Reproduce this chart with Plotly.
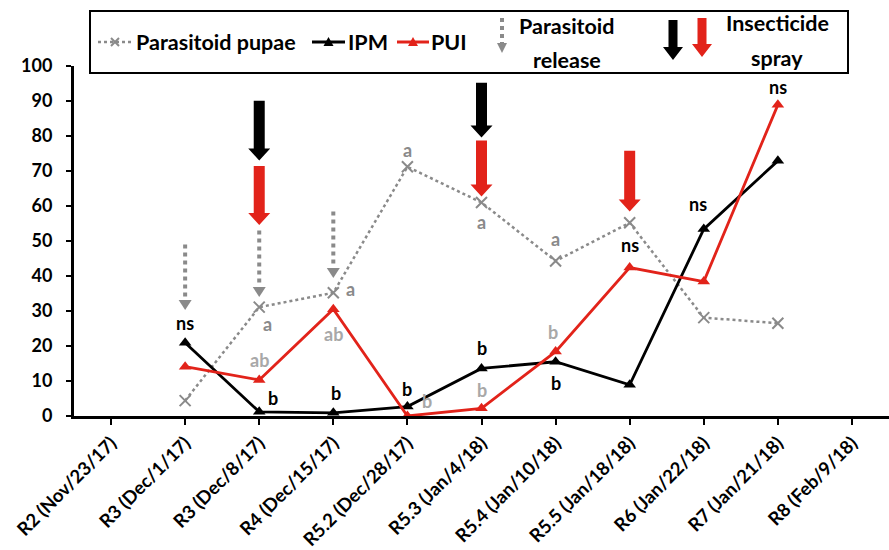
import plotly.graph_objects as go

# ---------------- data ----------------
categories = ["R2 (Nov/23/17)", "R3 (Dec/1/17)", "R3 (Dec/8/17)", "R4 (Dec/15/17)",
              "R5.2 (Dec/28/17)", "R5.3 (Jan/4/18)", "R5.4 (Jan/10/18)", "R5.5 (Jan/18/18)",
              "R6 (Jan/22/18)", "R7 (Jan/21/18)", "R8 (Feb/9/18)"]
pupae = [None, 4.4, 31.1, 35.2, 71.2, 61.0, 44.3, 55.2, 28.1, 26.5, None]
ipm = [None, 20.9, 1.2, 0.9, 2.7, 13.6, 15.5, 8.9, 53.4, 72.9, None]
pui = [None, 14.1, 10.3, 30.5, 0.0, 2.2, 18.4, 42.4, 38.4, 88.9, None]
y_ticks = [0, 10, 20, 30, 40, 50, 60, 70, 80, 90, 100]

# significance letters: (category index, y, text)
sig_black = [(1, 26.6, "ns"), (2, 5.1, "b"), (3, 6.6, "b"), (4, 7.7, "b"), (5, 19.4, "b"),
             (6, 9.4, "b"), (7, 48.9, "ns"), (8, 60.6, "ns"), (9, 94.0, "ns")]
sig_pupae = [(2, 26.3, "a"), (3, 36.3, "a"), (4, 76.0, "a"), (5, 55.4, "a"), (6, 50.6, "a")]
sig_pui = [(2, 16.0, "ab"), (3, 23.4, "ab"), (4, 4.4, "b"), (5, 7.4, "b"), (6, 24.1, "b")]

# arrows: category index, top value, tip value
release_idx = [1, 2, 3]
release_top = [49.0, 53.0, 58.4]
release_tip = [30.3, 34.0, 39.4]
spray_ipm_idx = [2, 5]
spray_ipm_top = [90.1, 95.2]
spray_ipm_tip = [73.0, 79.6]
spray_pui_idx = [2, 5, 7]
spray_pui_top = [71.4, 78.7, 75.8]
spray_pui_tip = [54.6, 62.7, 58.4]

# ---------------- styling / layout ----------------
W, H = 889, 550
L, R, T, B = 74, 0, 66, 134
PW = W - L - R
PH = H - T - B
FONT = "Lato"
RED = "#e2231a"
GRAY = "#8a8a8a"
LGRAY = "#a8a8a8"
ncat = len(categories)
xs = list(range(ncat))
px_per_cat = PW / ncat
px_per_unit = PH / 100.0

# label x-shifts (pixels)
shift_black = [0, 14, 3, 0, 0, 0, 0, -6, 0]
shift_pupae = [8, 17, 0, 0, 0]
shift_pui = [0, 0, 20, 0, -3]

fig = go.Figure()
fig.add_trace(go.Scatter(x=xs, y=pupae, mode="lines+markers", name="Parasitoid pupae",
                         line=dict(color=GRAY, width=2.5, dash="dot"),
                         marker=dict(symbol="x-thin", size=11, line=dict(color=GRAY, width=2)),
                         cliponaxis=False, showlegend=False))
fig.add_trace(go.Scatter(x=xs, y=ipm, mode="lines+markers", name="IPM",
                         line=dict(color="black", width=2.8),
                         marker=dict(symbol="triangle-up", size=11, color="black"),
                         cliponaxis=False, showlegend=False))
fig.add_trace(go.Scatter(x=xs, y=pui, mode="lines+markers", name="PUI",
                         line=dict(color=RED, width=2.8),
                         marker=dict(symbol="triangle-up", size=11, color=RED),
                         cliponaxis=False, showlegend=False))

shapes = []
annotations = []


def data_arrow(i, top, tip, color, shaft_px=11, head_px=22, headh_px=12):
    hw = shaft_px / 2 / px_per_cat
    hh = head_px / 2 / px_per_cat
    base = tip + headh_px / px_per_unit
    path = (f"M {i-hw},{top} L {i+hw},{top} L {i+hw},{base} L {i+hh},{base} "
            f"L {i},{tip} L {i-hh},{base} L {i-hw},{base} Z")
    shapes.append(dict(type="path", xref="x", yref="y", path=path,
                       fillcolor=color, line=dict(width=0), layer="above"))


def data_release(i, top, tip, head_px=13, headh_px=10):
    hh = head_px / 2 / px_per_cat
    base = tip + headh_px / px_per_unit
    shapes.append(dict(type="line", xref="x", yref="y", x0=i, x1=i, y0=top, y1=base + 1,
                       line=dict(color=GRAY, width=4, dash="dot")))
    shapes.append(dict(type="path", xref="x", yref="y",
                       path=f"M {i-hh},{base} L {i+hh},{base} L {i},{tip} Z",
                       fillcolor=GRAY, line=dict(width=0)))


for i, t, p in zip(release_idx, release_top, release_tip):
    data_release(i, t, p)
for i, t, p in zip(spray_ipm_idx, spray_ipm_top, spray_ipm_tip):
    data_arrow(i, t, p, "black")
for i, t, p in zip(spray_pui_idx, spray_pui_top, spray_pui_tip):
    data_arrow(i, t, p, RED)

ANN = 18
for (i, y, t), s in zip(sig_black, shift_black):
    annotations.append(dict(x=i, y=y, text=t, showarrow=False, xshift=s,
                            font=dict(family=FONT, size=ANN, color="black", weight="bold")))
for (i, y, t), s in zip(sig_pupae, shift_pupae):
    annotations.append(dict(x=i, y=y, text=t, showarrow=False, xshift=s,
                            font=dict(family=FONT, size=ANN, color=GRAY, weight="bold")))
for (i, y, t), s in zip(sig_pui, shift_pui):
    annotations.append(dict(x=i, y=y, text=t, showarrow=False, xshift=s,
                            font=dict(family=FONT, size=ANN, color=LGRAY, weight="bold")))


# ---------------- legend (pixel coordinates -> paper) ----------------
def px(x):
    return (x - L) / PW


def py(y):
    return (H - B - y) / PH


shapes.append(dict(type="rect", xref="paper", yref="paper", x0=px(90), x1=px(848),
                   y0=py(73), y1=py(11), line=dict(color="black", width=2),
                   fillcolor="white", layer="above"))
LY = 42
# parasitoid pupae
shapes.append(dict(type="line", xref="paper", yref="paper", x0=px(98), x1=px(133), y0=py(LY), y1=py(LY),
                   line=dict(color=GRAY, width=2.5, dash="dot")))
for dx, dy in [(1, 1), (1, -1)]:
    shapes.append(dict(type="line", xref="paper", yref="paper", x0=px(115 - 4 * dx), x1=px(115 + 4 * dx),
                       y0=py(LY - 4 * dy), y1=py(LY + 4 * dy), line=dict(color=GRAY, width=2)))
# IPM / PUI
for x0, x1, col in [(312, 345, "black"), (397, 429, RED)]:
    shapes.append(dict(type="line", xref="paper", yref="paper", x0=px(x0), x1=px(x1), y0=py(LY), y1=py(LY),
                       line=dict(color=col, width=3)))
    c = (x0 + x1) / 2
    shapes.append(dict(type="path", xref="paper", yref="paper",
                       path=f"M {px(c-5)},{py(LY+4)} L {px(c+5)},{py(LY+4)} L {px(c)},{py(LY-5)} Z",
                       fillcolor=col, line=dict(width=0)))
leg_txt = dict(showarrow=False, xref="paper", yref="paper",
               font=dict(family=FONT, size=21.5, color="black", weight="bold"))
annotations.append(dict(x=px(134), y=py(LY), text="Parasitoid pupae", xanchor="left", yanchor="middle", **leg_txt))
annotations.append(dict(x=px(346), y=py(LY), text="IPM", xanchor="left", yanchor="middle", **leg_txt))
annotations.append(dict(x=px(429), y=py(LY), text="PUI", xanchor="left", yanchor="middle", **leg_txt))
# parasitoid release
shapes.append(dict(type="line", xref="paper", yref="paper", x0=px(502), x1=px(502), y0=py(18), y1=py(43),
                   line=dict(color=GRAY, width=4, dash="dot")))
shapes.append(dict(type="path", xref="paper", yref="paper",
                   path=f"M {px(497)},{py(43)} L {px(507)},{py(43)} L {px(502)},{py(53)} Z",
                   fillcolor=GRAY, line=dict(width=0)))
annotations.append(dict(x=px(567), y=py(26), text="Parasitoid", xanchor="center", yanchor="middle", **leg_txt))
annotations.append(dict(x=px(567), y=py(60), text="release", xanchor="center", yanchor="middle", **leg_txt))


# insecticide spray
def paper_arrow(xc, top, tip, color, shaft=9, head=20, headh=13):
    base = tip - headh
    path = (f"M {px(xc-shaft/2)},{py(top)} L {px(xc+shaft/2)},{py(top)} L {px(xc+shaft/2)},{py(base)} "
            f"L {px(xc+head/2)},{py(base)} L {px(xc)},{py(tip)} L {px(xc-head/2)},{py(base)} "
            f"L {px(xc-shaft/2)},{py(base)} Z")
    shapes.append(dict(type="path", xref="paper", yref="paper", path=path,
                       fillcolor=color, line=dict(width=0)))


paper_arrow(673, 20, 60, "black")
paper_arrow(702, 18, 57, RED)
annotations.append(dict(x=px(777), y=py(23), text="Insecticide", xanchor="center", yanchor="middle", **leg_txt))
annotations.append(dict(x=px(777), y=py(58), text="spray", xanchor="center", yanchor="middle", **leg_txt))

fig.update_layout(
    width=W, height=H,
    margin=dict(l=L, r=R, t=T, b=B, pad=0),
    paper_bgcolor="white", plot_bgcolor="white",
    shapes=shapes, annotations=annotations,
    showlegend=False,
    xaxis=dict(range=[-0.5, ncat - 0.5], tickmode="array", tickvals=xs, ticktext=categories,
               tickangle=-45, showgrid=False, zeroline=False, showline=True, linecolor="black",
               linewidth=3, ticks="outside", ticklen=6, tickwidth=2, tickcolor="black",
               tickfont=dict(family=FONT, size=18.5, color="black", weight="bold")),
    yaxis=dict(range=[0, 100], tickmode="array", tickvals=y_ticks, showgrid=False, zeroline=False,
               showline=True, linecolor="black", linewidth=3, ticks="outside", ticklen=5,
               tickwidth=2, tickcolor="black", ticklabelstandoff=10,
               tickfont=dict(family=FONT, size=18, color="black", weight="bold")),
)

fig.write_html("out.html")
